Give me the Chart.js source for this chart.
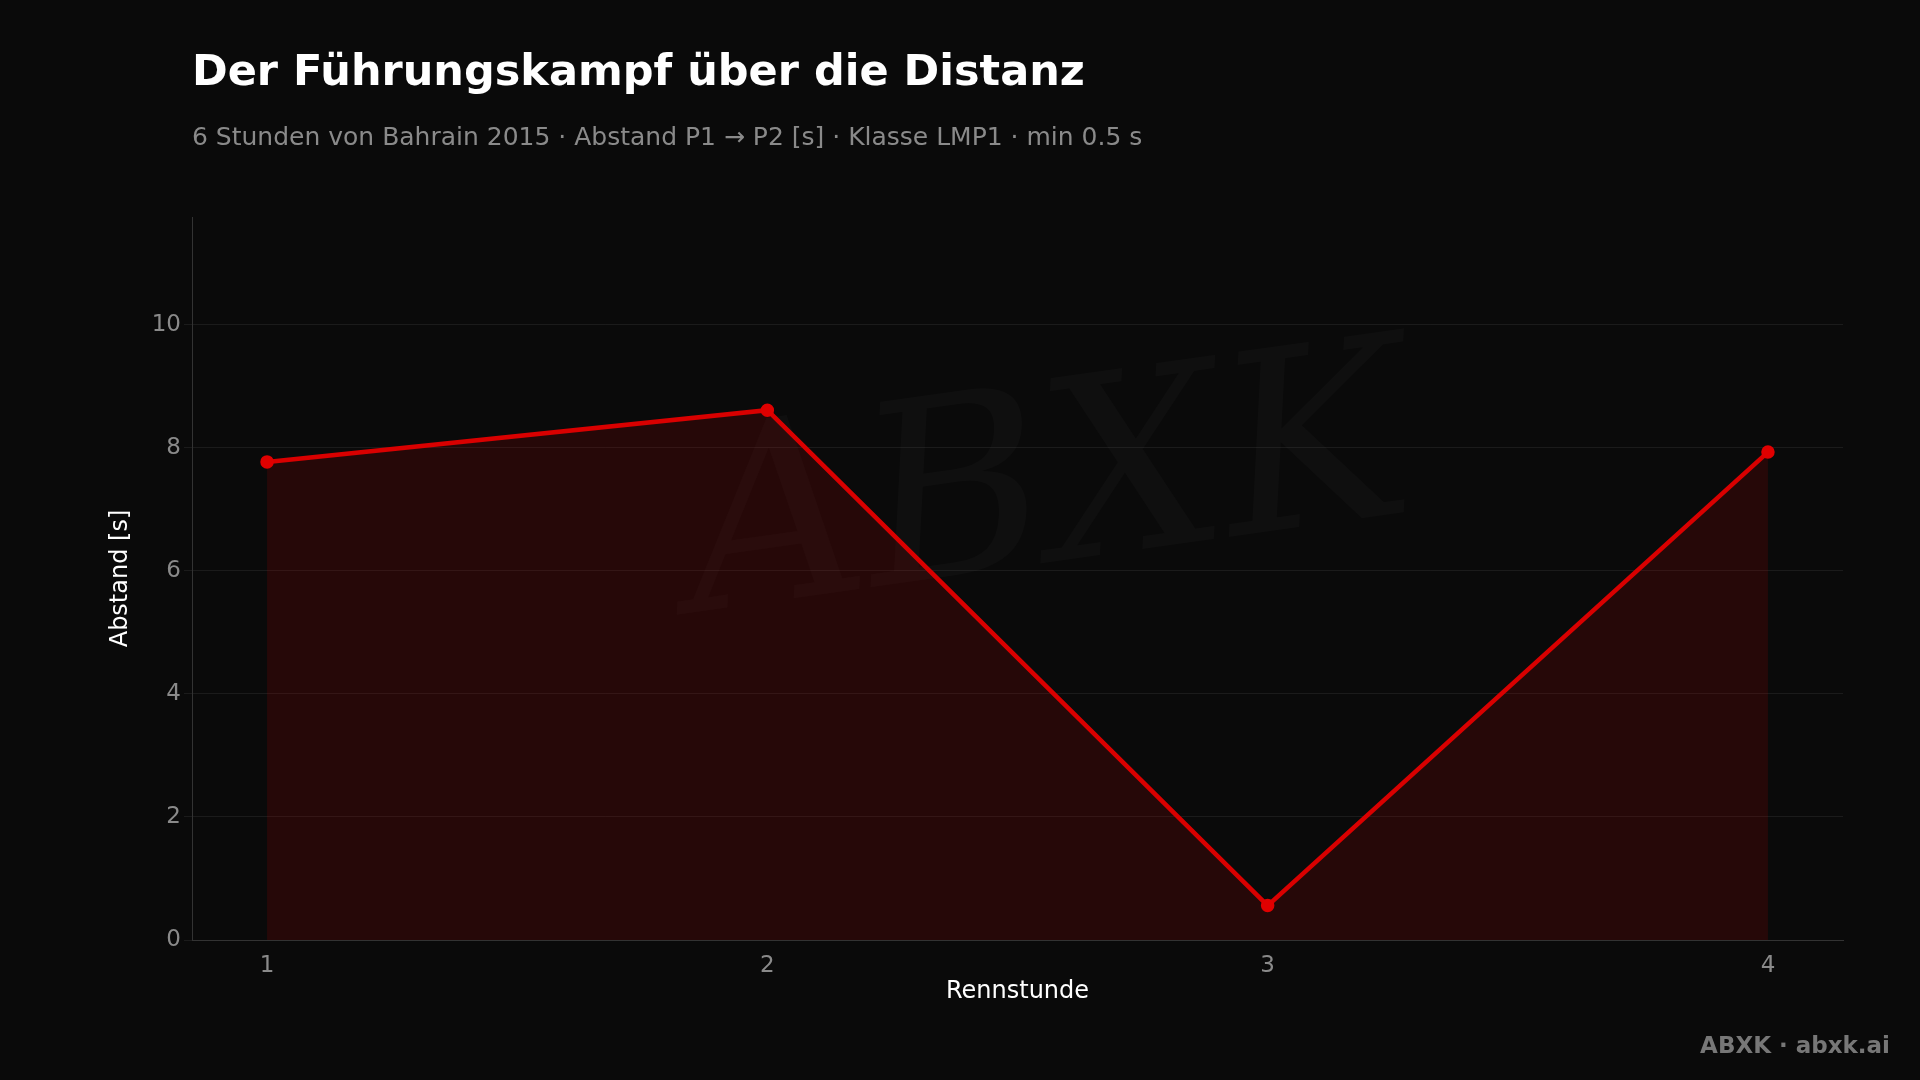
<!DOCTYPE html>
<html lang="de">
<head>
  <meta charset="UTF-8" />
  <title>Der Führungskampf über die Distanz</title>
  <script src="https://cdn.jsdelivr.net/npm/chart.js"></script>
  <style>
    body { margin: 0; background: #0a0a0a; font-family: 'DejaVu Sans', sans-serif; width: 1920px; height: 1080px; overflow: hidden; position: relative; }
    #title { position: absolute; left: 192px; top: 45px; color: #fff; font-size: 43px; font-weight: bold; }
    #subtitle { position: absolute; left: 192px; top: 122px; color: #8a8a8a; font-size: 25px; }
    #wm { position: absolute; left: 680px; top: 330px; color: rgba(255,255,255,0.022); font-size: 250px; font-style: italic; font-family: 'DejaVu Serif', serif; transform: rotate(-8deg); }
    #footer { position: absolute; right: 30px; bottom: 22px; color: #777; font-size: 23px; font-weight: bold; }
    #wrap { position: absolute; left: 0; top: 0; width: 1920px; height: 1080px; }
  </style>
</head>
<body>
  <div id="wm">ABXK</div>
  <div id="wrap"><canvas id="chart" width="1920" height="1080"></canvas></div>
  <div id="title">Der Führungskampf über die Distanz</div>
  <div id="subtitle">6 Stunden von Bahrain 2015 · Abstand P1 → P2 [s] · Klasse LMP1 · min 0.5 s</div>
  <div id="footer">ABXK · abxk.ai</div>
  <script>
    const hours = [1, 2, 3, 4];
    const gaps = [7.77, 8.61, 0.56, 7.93];
    const yTicks = [0, 2, 4, 6, 8, 10];

    new Chart(document.getElementById('chart'), {
      type: 'line',
      data: {
        datasets: [{
          data: hours.map((h, i) => ({ x: h, y: gaps[i] })),
          borderColor: '#d90000',
          backgroundColor: 'rgba(200,0,0,0.15)',
          borderWidth: 4.5,
          fill: 'origin',
          tension: 0,
          pointRadius: 4.5,
          pointBackgroundColor: '#e00000',
          pointBorderColor: '#e00000'
        }]
      },
      options: {
        responsive: false,
        animation: false,
        layout: { padding: { left: 102, right: 77, top: 217, bottom: 70 } },
        plugins: { legend: { display: false }, tooltip: { enabled: false } },
        scales: {
          x: {
            type: 'linear', min: 0.85, max: 4.15,
            afterFit: s => { s.height = 70; },
            afterBuildTicks: s => { s.ticks = hours.map(v => ({ value: v })); },
            ticks: { color: '#8a8a8a', padding: 4, font: { size: 23, family: 'DejaVu Sans' } },
            grid: { display: false },
            border: { color: '#333' },
            title: { display: true, text: 'Rennstunde', color: '#fff', padding: { top: 2 }, font: { size: 24, family: 'DejaVu Sans' } }
          },
          y: {
            min: 0, max: 11.75,
            afterFit: s => { s.width = 90; },
            afterBuildTicks: s => { s.ticks = yTicks.map(v => ({ value: v })); },
            ticks: { color: '#8a8a8a', font: { size: 23, family: 'DejaVu Sans' } },
            grid: { color: 'rgba(255,255,255,0.07)' },
            border: { color: '#333' },
            title: { display: true, text: 'Abstand [s]', color: '#fff', font: { size: 24, family: 'DejaVu Sans' } }
          }
        }
      }
    });
  </script>
</body>
</html>
